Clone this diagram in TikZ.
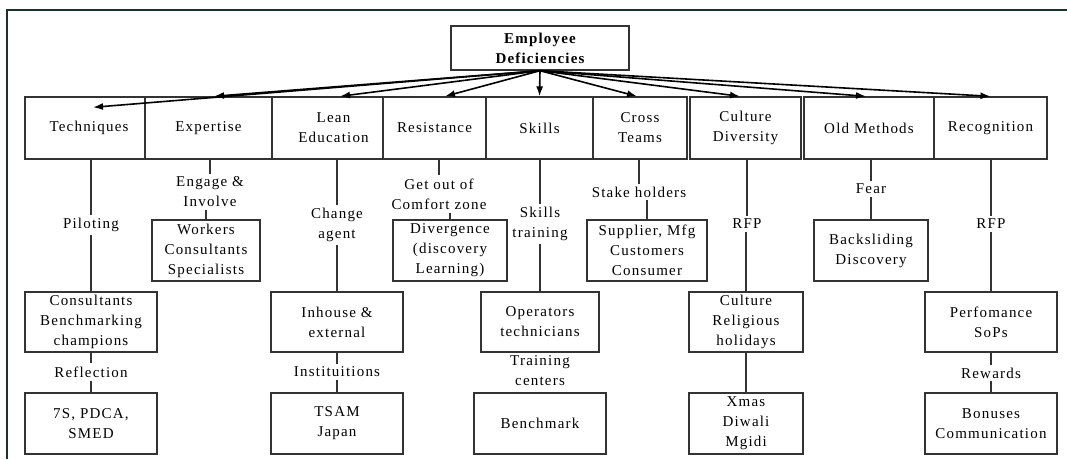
\documentclass[tikz,border=0pt]{standalone}
\usepackage{fontspec}
\setmainfont{Liberation Serif}[LetterSpace=8]
\usetikzlibrary{arrows.meta}
\begin{document}
\begin{tikzpicture}[x=1pt,y=-1pt,
  every node/.style={font=\fontsize{15}{20}\selectfont, align=center, text=black},
  box/.style={draw=black!80, line width=1.4pt, inner sep=0pt},
  top/.style={box, minimum height=62pt},
  lvtwo/.style={box, minimum height=61pt},
  lvthree/.style={box, minimum height=60pt},
  lvfour/.style={box, minimum height=61pt},
  lab/.style={inner xsep=1pt, inner ysep=3pt},
  link/.style={draw=black!80, line width=1.4pt},
  arr/.style={draw=black, line width=1.6pt, -{Latex[length=10pt,width=7pt]}},
  frame/.style={draw={rgb,255:red,30;green,50;blue,45}, line width=1.5pt}]

\useasboundingbox (0,0) rectangle (1067,459);
\draw[frame] (7,459) -- (7,10) -- (1067,10);

% root
\node[box, font=\fontsize{15}{20}\selectfont\bfseries, minimum width=178pt, minimum height=44pt]
  (root) at (540,48) {Employee\\Deficiencies};

% first level
\node[top, minimum width=120pt] (tech) at (85,128)    {\hspace*{8pt}Techniques};
\node[top, minimum width=127pt] (expe) at (208.5,128) {Expertise};
\node[top, minimum width=111pt] (lean) at (327.5,128) {\hspace*{12pt}Lean\\\hspace*{12pt}Education};
\node[top, minimum width=103pt] (resi) at (434.5,128) {Resistance};
\node[top, minimum width=107pt] (skil) at (539.5,128) {Skills};
\node[top, minimum width=94pt]  (cros) at (640,128)   {Cross\\Teams};
\node[top, minimum width=111pt] (cult) at (745.5,128) {Culture\\Diversity};
\node[top, minimum width=130pt] (oldm) at (869,128)   {Old Methods};
\node[top, minimum width=113pt] (reco) at (990.5,128) {Recognition};

% second level
\node[lvtwo, minimum width=108pt] (work) at (206,250.5) {Workers\\Consultants\\Specialists};
\node[lvtwo, minimum width=114pt] (dive) at (450,250.5) {Divergence\\(discovery\\Learning)};
\node[lvtwo, minimum width=120pt] (supp) at (647,250.5) {Supplier, Mfg\\Customers\\Consumer};
\node[lvtwo, minimum width=114pt] (back) at (871,250.5) {Backsliding\\Discovery};

% third level
\node[lvthree, minimum width=132pt] (cons) at (91,322)  {Consultants\\Benchmarking\\champions};
\node[lvthree, minimum width=132pt] (inho) at (337,322) {Inhouse \&\\external};
\node[lvthree, minimum width=118pt] (oper) at (540,322) {Operators\\technicians};
\node[lvthree, minimum width=114pt] (reli) at (746,322) {Culture\\Religious\\holidays};
\node[lvthree, minimum width=132pt] (perf) at (991,322) {Perfomance\\SoPs};

% fourth level
\node[lvfour, minimum width=132pt] (sevs) at (91,423.5)  {7S, PDCA,\\SMED};
\node[lvfour, minimum width=132pt] (tsam) at (337,423.5) {TSAM\\Japan};
\node[lvfour, minimum width=132pt] (benc) at (540,423.5) {Benchmark};
\node[lvfour, minimum width=114pt] (xmas) at (746,423.5) {Xmas\\Diwali\\Mgidi};
\node[lvfour, minimum width=132pt] (bonu) at (991,423.5) {Bonuses\\Communication};

% connector labels
\node[lab] (lPil) at (91,225)  {Piloting};
\node[lab] (lEng) at (210,192) {Engage \&\\Involve};
\node[lab] (lCha) at (337,225) {Change\\agent};
\node[lab] (lGet) at (439,194) {Get out of\\Comfort zone};
\node[lab] (lSki) at (540,224) {Skills\\training};
\node[lab] (lSta) at (639,192) {Stake holders};
\node[lab] (lRfa) at (747,224) {RFP};
\node[lab] (lFea) at (871,189) {Fear};
\node[lab] (lRfb) at (991,224) {RFP};
\node[lab] (lRef) at (91,372)  {Reflection};
\node[lab] (lIns) at (337,372) {Instituitions};
\node[lab] (lTra) at (540,371) {Training\\centers};
\node[lab] (lRew) at (991,373) {Rewards};

% arrows from the root
\foreach \n/\dx/\dy in {tech/8/-11, expe/5.5/0, lean/12.5/0, resi/10.5/0, skil/0/0,
                       cros/-3/0, cult/-5.5/0, oldm/-3/0, reco/0/0}
  \draw[arr] (root.south) -- ([xshift=\dx pt, yshift=\dy pt]\n.north);

% Techniques
\draw[link] (tech.south -| lPil.north) -- (lPil.north);
\draw[link] (lPil.south) -- (cons.north);
\draw[link] (cons.south) -- (lRef.north);
\draw[link] (lRef.south) -- (sevs.north);
% Expertise
\draw[link] (expe.south -| lEng.north) -- (lEng.north);
\draw[link] (lEng.south -| work.north) -- (work.north);
% Lean Education
\draw[link] (lean.south -| lCha.north) -- (lCha.north);
\draw[link] (lCha.south) -- (inho.north);
\draw[link] (inho.south) -- (lIns.north);
\draw[link] (lIns.south) -- (tsam.north);
% Resistance
\draw[link] (resi.south -| lGet.north) -- (lGet.north);
\draw[link] (lGet.south -| dive.north) -- (dive.north);
% Skills
\draw[link] (skil.south -| lSki.north) -- (lSki.north);
\draw[link] (lSki.south) -- (oper.north);
% Cross Teams
\draw[link] (cros.south -| lSta.north) -- (lSta.north);
\draw[link] (lSta.south -| supp.north) -- (supp.north);
% Culture Diversity
\draw[link] (cult.south -| lRfa.north) -- (lRfa.north);
\draw[link] (lRfa.south -| reli.north) -- (reli.north);
\draw[link] (reli.south) -- (xmas.north);
% Old Methods
\draw[link] (oldm.south -| lFea.north) -- (lFea.north);
\draw[link] (lFea.south -| back.north) -- (back.north);
% Recognition
\draw[link] (reco.south -| lRfb.north) -- (lRfb.north);
\draw[link] (lRfb.south) -- (perf.north);
\draw[link] (perf.south) -- (lRew.north);
\draw[link] (lRew.south) -- (bonu.north);
\end{tikzpicture}
\end{document}
